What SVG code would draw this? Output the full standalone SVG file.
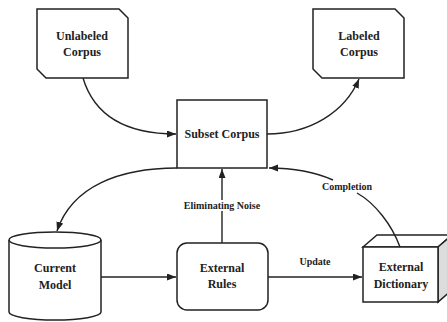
<svg xmlns="http://www.w3.org/2000/svg" width="447" height="322" viewBox="0 0 447 322">
  <style>
    .shape { fill: #fff; stroke: #222; stroke-width: 1.5; }
    .side { fill: #dcdcdc; stroke: #222; stroke-width: 1.5; }
    .edge { fill: none; stroke: #222; stroke-width: 1.4; }
    .node { font-family: "Liberation Serif", "Times New Roman", serif; font-weight: bold; font-size: 12px; fill: #222; text-anchor: middle; }
    .lbl { font-family: "Liberation Serif", "Times New Roman", serif; font-weight: bold; font-size: 10px; fill: #222; text-anchor: middle; }
  </style>
  <defs>
    <marker id="arrow" markerUnits="userSpaceOnUse" markerWidth="10" markerHeight="8" refX="9" refY="3.5" orient="auto">
      <path d="M0,0 L9,3.5 L0,7 z" fill="#222"/>
    </marker>
  </defs>

  <g id="unlabeled-corpus">
    <path class="shape" d="M37,9 H119 L128,18 V78 H46 L37,69 Z"/>
    <text class="node" x="82" y="40">Unlabeled</text>
    <text class="node" x="82" y="56">Corpus</text>
  </g>

  <g id="labeled-corpus">
    <path class="shape" d="M313,9 H395 L404,18 V78 H322 L313,69 Z"/>
    <text class="node" x="359" y="40">Labeled</text>
    <text class="node" x="359" y="56">Corpus</text>
  </g>

  <g id="subset-corpus">
    <rect class="shape" x="177" y="100" width="90" height="68"/>
    <text class="node" x="222" y="138">Subset Corpus</text>
  </g>

  <g id="current-model">
    <path class="shape" d="M9,240 V312 A46,8 0 0 0 101,312 V240"/>
    <ellipse class="shape" cx="55" cy="240" rx="46" ry="8"/>
    <text class="node" x="55" y="272">Current</text>
    <text class="node" x="55" y="289">Model</text>
  </g>

  <g id="external-rules">
    <rect class="shape" x="177" y="243" width="91" height="67" rx="10" ry="10"/>
    <text class="node" x="222" y="272">External</text>
    <text class="node" x="222" y="288">Rules</text>
  </g>

  <g id="external-dictionary">
    <path class="shape" d="M363,247 L377,235 H452 L438,247 Z"/>
    <path class="side" d="M438,247 L452,235 V290 L438,302 Z"/>
    <rect class="shape" x="363" y="247" width="75" height="55"/>
    <text class="node" x="401" y="271">External</text>
    <text class="node" x="401" y="288">Dictionary</text>
  </g>

  <g id="connectors">
    <path class="edge" d="M83,78 C95,118 130,134 176,134" marker-end="url(#arrow)"/>
    <path class="edge" d="M267,134 C310,134 345,112 359,79" marker-end="url(#arrow)"/>
    <path class="edge" d="M177,168 C120,168 72,186 57,231" marker-end="url(#arrow)"/>
    <path class="edge" d="M222,243 V211"/>
    <path class="edge" d="M222,200 V169" marker-end="url(#arrow)"/>
    <path class="edge" d="M101,277 H176" marker-end="url(#arrow)"/>
    <path class="edge" d="M268,277 H362" marker-end="url(#arrow)"/>
    <path class="edge" d="M400,247 C392,225 375,203 357,193"/>
    <path class="edge" d="M333,180 C315,172 295,168 269,168" marker-end="url(#arrow)"/>
    <text class="lbl" x="222" y="209">Eliminating Noise</text>
    <text class="lbl" x="315" y="265">Update</text>
    <text class="lbl" x="347" y="190">Completion</text>
  </g>
</svg>
